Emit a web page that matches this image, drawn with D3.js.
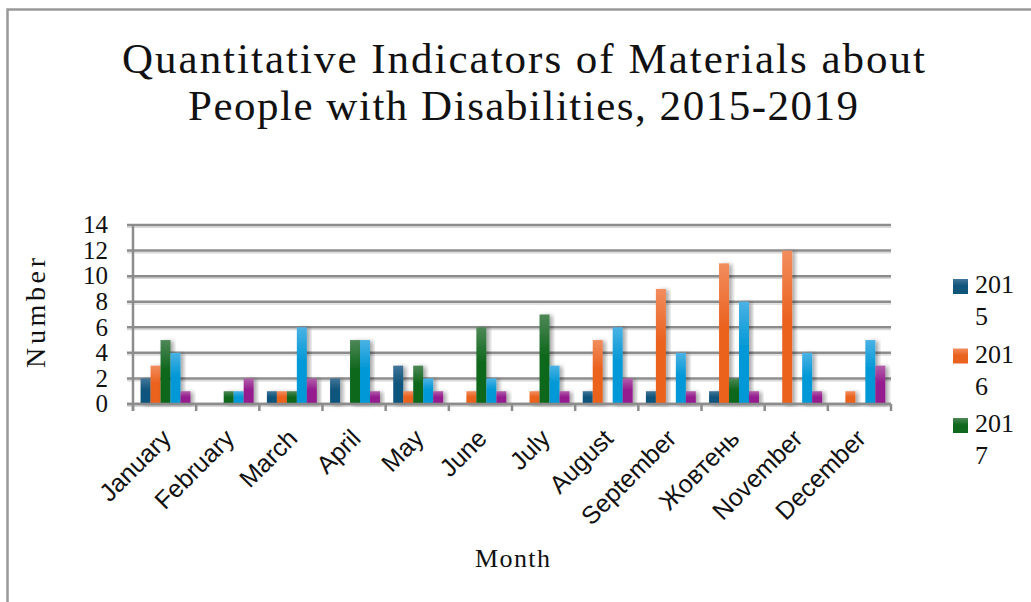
<!DOCTYPE html>
<html><head><meta charset="utf-8">
<script src="https://cdn.jsdelivr.net/npm/d3@7/dist/d3.min.js"></script>
<style>html,body{margin:0;padding:0;background:#fff;}svg{display:block;}</style>
</head><body>
<svg id="chart" width="1031" height="602"></svg>
<script>
const months = ["January","February","March","April","May","June","July","August","September","Жовтень","November","December"];
const seriesNames = ["2015","2016","2017","2018","2019"];
const v2015 = [2,0,1,2,3,0,0,1,1,1,0,0];
const v2016 = [3,0,1,0,1,1,1,5,9,11,12,1];
const v2017 = [5,1,1,5,3,6,7,0,0,2,0,0];
const v2018 = [4,1,6,5,2,2,3,6,4,8,4,5];
const v2019 = [1,2,2,1,1,1,1,2,1,1,1,3];
const yTicks = [0,2,4,6,8,10,12,14];
const legendShown = ["2015","2016","2017"];
const titleLines = ["Quantitative Indicators of Materials about","People with Disabilities, 2015-2019"];

const seriesValues = [v2015,v2016,v2017,v2018,v2019];
const colorsTop = ["#42759a","#f28d5e","#4e8757","#4ab2e4","#b15fa9"];
const colorsBot = ["#11557b","#ea621f","#10681e","#0298d6","#951b8e"];
const serif = "'Liberation Serif', 'Times New Roman', serif";
const sans = "'Liberation Sans', Arial, sans-serif";

const svg = d3.select("#chart");
svg.append("rect").attr("width",1031).attr("height",602).attr("fill","#fff");
const defs = svg.append("defs");
seriesNames.forEach((s,i)=>{
  const g = defs.append("linearGradient").attr("id","g"+i).attr("x1",0).attr("y1",0).attr("x2",0).attr("y2",1);
  g.append("stop").attr("offset","0%").attr("stop-color",colorsTop[i]);
  g.append("stop").attr("offset","45%").attr("stop-color",colorsBot[i]);
  g.append("stop").attr("offset","100%").attr("stop-color",colorsBot[i]);
});
const f = defs.append("filter").attr("id","sh").attr("x","-50%").attr("y","-20%").attr("width","200%").attr("height","140%");
f.append("feDropShadow").attr("dx",3).attr("dy",1).attr("stdDeviation",2).attr("flood-color","#000").attr("flood-opacity",0.35);

// frame
svg.append("path").attr("d","M7.5,602 L7.5,9.5 L1031,9.5").attr("fill","none").attr("stroke","#999").attr("stroke-width",2.5);

// title
svg.selectAll("text.title").data(titleLines).join("text")
  .attr("class","title")
  .attr("x",(d,i)=> i===0?122:188)
  .attr("y",(d,i)=> i===0?73:120)
  .attr("textLength",(d,i)=> i===0?803:670)
  .attr("lengthAdjust","spacing")
  .attr("font-family",serif)
  .attr("font-size",43).attr("fill","#111")
  .text(d=>d);

const x0 = d3.scaleBand().domain(months).range([133,891]).padding(0);
const bw = x0.bandwidth();
const x1 = d3.scaleBand().domain(seriesNames).range([bw*0.12, bw*0.91]).padding(0);
const y = d3.scaleLinear().domain([0,14]).range([404,225]);

// gridlines
const grid = svg.append("g");
grid.selectAll("line.gs").data(yTicks).join("line").attr("class","gs")
  .attr("x1",127).attr("x2",891).attr("y1",d=>y(d)+2.2).attr("y2",d=>y(d)+2.2)
  .attr("stroke","#d8d8d8").attr("stroke-width",1.5);
grid.selectAll("line.g").data(yTicks).join("line").attr("class","g")
  .attr("x1",127).attr("x2",891).attr("y1",d=>y(d)).attr("y2",d=>y(d))
  .attr("stroke","#8c8c8c").attr("stroke-width",2.5);

// bars
const rows = [];
months.forEach((m,mi)=>seriesNames.forEach((s,si)=>{ if(seriesValues[si][mi]>0) rows.push({m,s,si,v:seriesValues[si][mi]}); }));
svg.append("g").selectAll("rect").data(rows).join("rect")
  .attr("x",d=>x0(d.m)+x1(d.s)).attr("width",x1.bandwidth())
  .attr("y",d=>y(d.v)).attr("height",d=>y(0)-y(d.v))
  .attr("fill",d=>"url(#g"+d.si+")").attr("filter","url(#sh)");

// axes
const ax = svg.append("g");
ax.append("line").attr("x1",133).attr("x2",133).attr("y1",y(14)).attr("y2",411).attr("stroke","#8c8c8c").attr("stroke-width",2.5);
ax.append("line").attr("x1",127).attr("x2",891).attr("y1",y(0)).attr("y2",y(0)).attr("stroke","#8c8c8c").attr("stroke-width",2.5);
const bounds = months.map(m=>x0(m)).concat([x0(months[months.length-1])+bw]);
ax.selectAll("line.t").data(bounds).join("line").attr("class","t")
  .attr("x1",d=>d).attr("x2",d=>d).attr("y1",y(0)).attr("y2",411).attr("stroke","#8c8c8c").attr("stroke-width",2.5);

// y tick labels
svg.append("g").selectAll("text").data(yTicks).join("text")
  .attr("x",108).attr("y",d=>y(d)).attr("dy","0.33em").attr("text-anchor","end")
  .attr("font-family",serif).attr("font-size",25).attr("fill","#111")
  .text(d=>d);

// x tick labels
svg.append("g").selectAll("text").data(months).join("text")
  .attr("transform",d=>`translate(${x0(d)+bw/2+8},440) rotate(-45)`)
  .attr("text-anchor","end")
  .attr("font-family",sans).attr("font-size",25).attr("fill","#111")
  .text(d=>d);

// axis titles
svg.append("text").attr("transform","translate(45,313) rotate(-90)").attr("text-anchor","middle")
  .attr("font-family",serif).attr("font-size",28).attr("fill","#111")
  .attr("textLength",110).attr("lengthAdjust","spacing").text("Number");
svg.append("text").attr("x",475).attr("y",567)
  .attr("font-family",serif).attr("font-size",26).attr("fill","#111")
  .attr("textLength",75).attr("lengthAdjust","spacing").text("Month");

// legend
const leg = svg.append("g").selectAll("g").data(legendShown).join("g")
  .attr("transform",(d,i)=>`translate(953,${279+i*69.5})`);
leg.append("rect").attr("width",15).attr("height",15).attr("fill",d=>"url(#g"+seriesNames.indexOf(d)+")");
const lt = leg.append("text").attr("font-family",serif).attr("font-size",26).attr("fill","#111");
lt.append("tspan").attr("x",22).attr("y",14).text(d=>d.slice(0,3));
lt.append("tspan").attr("x",22).attr("y",46).text(d=>d.slice(3));
</script>
</body></html>
